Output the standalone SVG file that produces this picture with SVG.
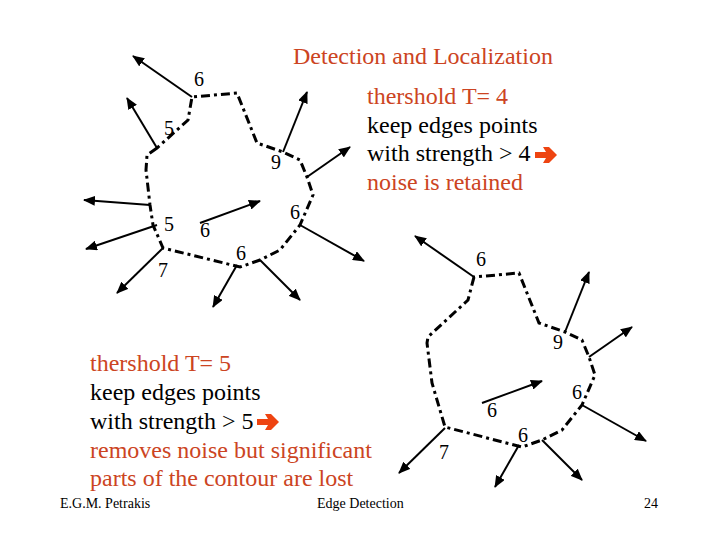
<svg xmlns="http://www.w3.org/2000/svg" width="720" height="540" viewBox="0 0 720 540">
<style>
.t{font-family:"Liberation Serif","Times New Roman",serif;font-size:24px}
.o{fill:#cc4422}
.k{fill:#000}
.n{font-family:"Liberation Serif","Times New Roman",serif;font-size:20px;fill:#000;text-anchor:middle}
.f{font-family:"Liberation Serif","Times New Roman",serif;font-size:14px;fill:#000}
.c{fill:none;stroke:#000;stroke-width:3;stroke-dasharray:9 4 3 4;stroke-linejoin:miter}
.a{stroke:#000;stroke-width:2;fill:none;marker-end:url(#ah)}
.l{stroke:#000;stroke-width:2;fill:none}
</style>
<defs>
<marker id="ah" markerUnits="userSpaceOnUse" markerWidth="12" markerHeight="10" refX="11" refY="5" orient="auto">
<path d="M0,0 L12,5 L0,10 Z" fill="#000"/>
</marker>
<polygon id="oa" points="0,-3 11,-3 8,-8 14,-8 22,0 14,8 8,8 11,3 0,3" fill="#ee4411"/>
</defs>
<rect width="720" height="540" fill="#fff"/>
<text class="t o" x="293" y="64">Detection and Localization</text>
<g id="text1">
<text class="t o" x="367" y="104">thershold T= 4</text>
<text class="t k" x="367" y="133">keep edges points</text>
<text class="t k" x="367" y="161">with strength &gt; 4</text>
<use href="#oa" x="535" y="155"/>
<text class="t o" x="367" y="190">noise is retained</text>
</g>
<g id="text2">
<text class="t o" x="90" y="371">thershold T= 5</text>
<text class="t k" x="90" y="400">keep edges points</text>
<text class="t k" x="90" y="429">with strength &gt; 5</text>
<use href="#oa" x="257" y="422"/>
<text class="t o" x="90" y="458">removes noise but significant</text>
<text class="t o" x="90" y="486">parts of the contour are lost</text>
</g>
<g id="contour1">
<path class="c" d="M157,148 L147,155 L146,170 L150,205 L153,225 L163,248 L240,267 L260,260 L280,250 L300,225 L313,195 L307,177 L300,160 L283,152 L257,143 L237,93 L192,97 L188,120 Z"/>
<g id="arrows1">
<line class="a" x1="192" y1="97" x2="133" y2="56"/>
<line class="a" x1="157" y1="148" x2="127" y2="98"/>
<line class="a" x1="283" y1="152" x2="307" y2="92"/>
<line class="a" x1="307" y1="177" x2="350" y2="147"/>
<line class="a" x1="300" y1="225" x2="364" y2="261"/>
<line class="a" x1="260" y1="260" x2="300" y2="300"/>
<line class="a" x1="237" y1="265" x2="213" y2="307"/>
<line class="a" x1="163" y1="248" x2="117" y2="293"/>
<line class="a" x1="157" y1="225" x2="86" y2="249"/>
<line class="a" x1="150" y1="205" x2="84" y2="200"/>
<line class="a" x1="200" y1="223" x2="260" y2="201"/>
</g>
<text class="n" x="199" y="86">6</text>
<text class="n" x="169" y="135">5</text>
<text class="n" x="276" y="169">9</text>
<text class="n" x="169" y="231">5</text>
<text class="n" x="205" y="237">6</text>
<text class="n" x="163" y="277">7</text>
<text class="n" x="241" y="260">6</text>
<text class="n" x="295" y="219">6</text>
</g>
<g id="contour2" transform="translate(282,180)">
<path class="c" d="M192,97 L186,120 L146,157 L145,163 L150,203 L163,247 L240,267 L260,260 L280,250 L300,225 L313,195 L307,177 L300,160 L283,152 L257,143 L237,93 Z"/>
<g id="arrows2">
<line class="a" x1="192" y1="97" x2="133" y2="56"/>
<line class="a" x1="283" y1="152" x2="307" y2="92"/>
<line class="a" x1="307" y1="177" x2="350" y2="147"/>
<line class="a" x1="300" y1="225" x2="364" y2="261"/>
<line class="a" x1="260" y1="260" x2="300" y2="300"/>
<line class="a" x1="237" y1="265" x2="213" y2="307"/>
<line class="a" x1="163" y1="248" x2="117" y2="293"/>
<line class="a" x1="200" y1="223" x2="260" y2="201"/>
</g>
<text class="n" x="199" y="86">6</text>
<text class="n" x="276" y="169">9</text>
<text class="n" x="210" y="237">6</text>
<text class="n" x="162" y="279">7</text>
<text class="n" x="241" y="262">6</text>
<text class="n" x="295" y="219">6</text>
</g>
<text class="f" x="60" y="508">E.G.M. Petrakis</text>
<text class="f" x="317" y="508">Edge Detection</text>
<text class="f" x="644" y="508">24</text>
</svg>
